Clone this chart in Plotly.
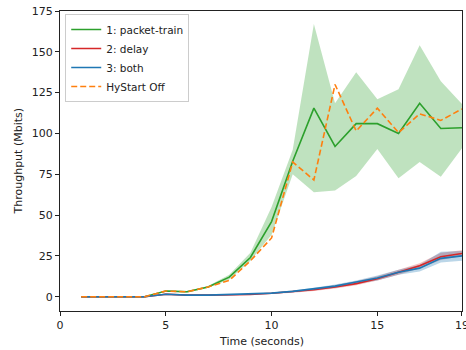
import plotly.graph_objects as go

time = list(range(1, 20))

pt_mean = [0, 0, 0, 0, 3.5, 3, 6, 12, 24, 46, 83, 115.5, 92, 106, 106, 100, 118.5, 103, 103.5]
pt_low = [0, 0, 0, 0, 3, 2.5, 5.5, 10.5, 22, 38, 75, 64, 65, 74, 90.5, 72.5, 82.5, 73.5, 91]
pt_high = [0, 0, 0, 0, 4, 3.5, 6.5, 13.5, 27, 55, 90, 167, 118.5, 137.5, 121, 127, 154, 132, 118]

delay_mean = [0, 0, 0, 0, 1.5, 1, 1, 1.2, 1.4, 2.1, 3, 4.3, 6, 8, 11, 15, 19, 24.5, 26.5]
delay_low = [0, 0, 0, 0, 1, 0.7, 0.7, 0.9, 1.1, 1.7, 2.5, 3.5, 5, 7, 10, 13.5, 17.5, 22.5, 25]
delay_high = [0, 0, 0, 0, 2, 1.3, 1.3, 1.5, 1.7, 2.5, 3.5, 5, 7, 9.5, 12.5, 16.5, 20.5, 27, 28.5]

both_mean = [0, 0, 0, 0, 1.5, 1, 1, 1.3, 1.5, 2.2, 3.3, 4.8, 6.5, 9, 11.5, 15, 17.5, 23.5, 25]
both_low = [0, 0, 0, 0, 1, 0.7, 0.7, 1, 1.2, 1.8, 2.8, 4, 5.5, 8, 10, 13.5, 15.5, 21, 22]
both_high = [0, 0, 0, 0, 2, 1.3, 1.3, 1.6, 1.8, 2.6, 3.8, 5.5, 7.5, 10, 13, 16.5, 19.5, 27.5, 28]

off_mean = [0, 0, 0, 0, 3.5, 3, 6, 10, 22, 36, 82.5, 71.5, 130, 101.5, 115.5, 100.5, 112, 108, 115]

xticks = [0, 5, 10, 15, 19]
yticks = [0, 25, 50, 75, 100, 125, 150, 175]

GREEN, RED, BLUE, ORANGE = "#2ca02c", "#d62728", "#1f77b4", "#ff7f0e"

fig = go.Figure()

def band(low, high, rgba):
    fig.add_trace(go.Scatter(x=time, y=low, mode="lines", line=dict(width=0),
                             showlegend=False, hoverinfo="skip"))
    fig.add_trace(go.Scatter(x=time, y=high, mode="lines", line=dict(width=0),
                             fill="tonexty", fillcolor=rgba, showlegend=False, hoverinfo="skip"))

band(pt_low, pt_high, "rgba(44,160,44,0.3)")
band(delay_low, delay_high, "rgba(214,39,40,0.3)")
band(both_low, both_high, "rgba(31,119,180,0.3)")

fig.add_trace(go.Scatter(x=time, y=pt_mean, mode="lines", name="1: packet-train",
                         line=dict(color=GREEN, width=1.6)))
fig.add_trace(go.Scatter(x=time, y=delay_mean, mode="lines", name="2: delay",
                         line=dict(color=RED, width=1.6)))
fig.add_trace(go.Scatter(x=time, y=both_mean, mode="lines", name="3: both",
                         line=dict(color=BLUE, width=1.6)))
fig.add_trace(go.Scatter(x=time, y=off_mean, mode="lines", name="HyStart Off",
                         line=dict(color=ORANGE, width=1.6, dash="6px,3px")))

axis_common = dict(showline=True, linecolor="#222", linewidth=1, mirror=True,
                   ticks="outside", ticklen=4, tickcolor="#222", showgrid=False,
                   zeroline=False, automargin=False, ticklabeloverflow="allow",
                   tickfont=dict(size=11, color="#222"))

fig.update_layout(
    width=466, height=350,
    margin=dict(l=60, r=4, t=11, b=39),
    paper_bgcolor="white", plot_bgcolor="white",
    font=dict(family="DejaVu Sans", size=11, color="#222"),
    xaxis=dict(range=[0, 19.001], tickvals=xticks, ticktext=[str(v) for v in xticks],
               **axis_common),
    yaxis=dict(range=[-8.75, 175], tickvals=yticks, **axis_common),
    legend=dict(x=0.013, y=0.99, xanchor="left", yanchor="top", traceorder="normal",
                bgcolor="rgba(255,255,255,0.8)", bordercolor="#ccc", borderwidth=1,
                font=dict(size=10.5), tracegroupgap=0, itemwidth=30),
    annotations=[
        dict(text="Time (seconds)", xref="paper", yref="paper", x=0.5, y=0,
             yshift=-22, xanchor="center", yanchor="top", showarrow=False,
             font=dict(size=11)),
        dict(text="Throughput (Mbits)", xref="paper", yref="paper", x=0, y=0.5,
             xshift=-34, xanchor="right", yanchor="middle", textangle=-90,
             showarrow=False, font=dict(size=11)),
    ],
)

fig.write_html("out.html", config={"displayModeBar": False},
               post_script="document.body.style.margin='0';")
